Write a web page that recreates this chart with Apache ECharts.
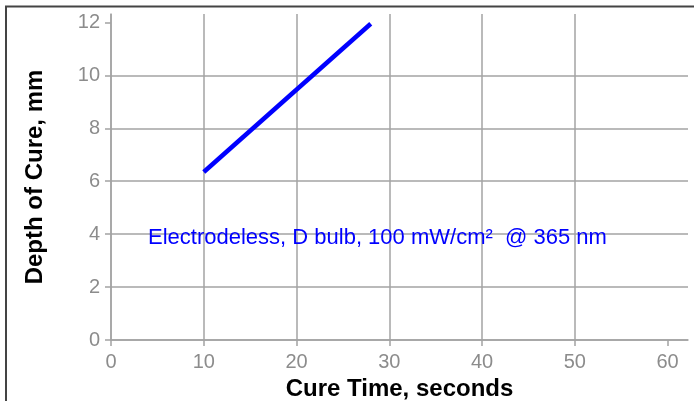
<!DOCTYPE html>
<html>
<head>
<meta charset="utf-8">
<script src="https://cdn.jsdelivr.net/npm/echarts@6/dist/echarts.min.js"></script>
<style>
html,body{margin:0;padding:0;background:#fff;overflow:hidden;}
#chart{width:694px;height:401px;}
</style>
</head>
<body>
<div id="chart"></div>
<script>
// Data
const cureTime = [10, 28];          // seconds
const depthOfCure = [6.35, 11.95];  // mm
const xTicks = [0, 10, 20, 30, 40, 50, 60];
const yTicks = [0, 2, 4, 6, 8, 10, 12];
const xTitle = 'Cure Time, seconds';
const yTitle = 'Depth of Cure, mm';
const note = 'Electrodeless, D bulb, 100 mW/cm\u00B2  @ 365 nm';

const gridColor = '#a3a3a3';
const labelColor = '#8c8c8c';
const font = 'Liberation Sans, Arial, sans-serif';

const chart = echarts.init(document.getElementById('chart'), null, {renderer: 'canvas', width: 694, height: 401});
chart.setOption({
  animation: false,
  backgroundColor: '#fff',
  grid: {left: 111, top: 14, right: 6, bottom: 61, containLabel: false, outerBoundsMode: 'none'},
  xAxis: {
    type: 'value', min: 0, max: 62.2, interval: 10,
    name: xTitle, nameLocation: 'middle', nameGap: 35,
    nameTextStyle: {fontFamily: font, fontWeight: 'bold', fontSize: 24, color: '#000'},
    axisLine: {show: true, lineStyle: {color: gridColor, width: 1.5}},
    axisTick: {show: true, length: 6, customValues: xTicks, lineStyle: {color: gridColor, width: 1.5}},
    axisLabel: {customValues: xTicks, margin: 12, color: labelColor, fontSize: 20, fontFamily: font},
    splitLine: {show: true, showMaxLine: false, lineStyle: {color: gridColor, width: 1.5}}
  },
  yAxis: {
    type: 'value', min: 0, max: 12.32, interval: 2,
    name: yTitle, nameLocation: 'middle', nameGap: 64, nameRotate: 90,
    nameTextStyle: {fontFamily: font, fontWeight: 'bold', fontSize: 24, color: '#000'},
    axisLine: {show: true, lineStyle: {color: gridColor, width: 1.5}},
    axisTick: {show: true, length: 6, customValues: yTicks, lineStyle: {color: gridColor, width: 1.5}},
    axisLabel: {customValues: yTicks, margin: 11, color: labelColor, fontSize: 20, fontFamily: font},
    splitLine: {show: true, showMaxLine: false, lineStyle: {color: gridColor, width: 1.5}}
  },
  series: [{
    type: 'line',
    data: cureTime.map((t, i) => [t, depthOfCure[i]]),
    showSymbol: false,
    symbol: 'none',
    lineStyle: {color: '#0000ff', width: 4.5},
    z: 5
  }],
  graphic: [
    {type: 'polyline', shape: {points: [[6, 401], [6, 6.5], [694, 6.5]]}, style: {fill: null, stroke: '#444', lineWidth: 2}, silent: true, z: 10},
    {type: 'text', left: 148, top: 227, style: {text: note, fill: '#0000ff', fontSize: 22, fontFamily: font}, z: 10}
  ]
});
</script>
</body>
</html>
